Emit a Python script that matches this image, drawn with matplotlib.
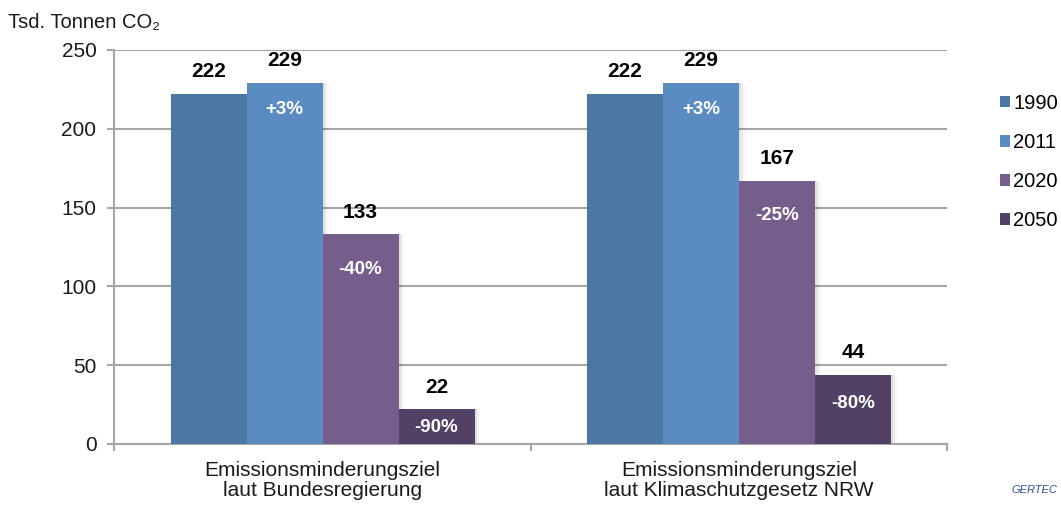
import matplotlib.pyplot as plt
from matplotlib.patches import Patch
import numpy as np

plt.rcParams['font.family'] = ['Liberation Sans', 'DejaVu Sans']

# --- data ---
categories = ["Emissionsminderungsziel\nlaut Bundesregierung",
              "Emissionsminderungsziel\nlaut Klimaschutzgesetz NRW"]
years = ["1990", "2011", "2020", "2050"]
values = {
    "1990": [222, 222],
    "2011": [229, 229],
    "2020": [133, 167],
    "2050": [22, 44],
}
changes = {
    "1990": ["", ""],
    "2011": ["+3%", "+3%"],
    "2020": ["-40%", "-25%"],
    "2050": ["-90%", "-80%"],
}
colors = ["#4a78a2", "#5a8cc1", "#765e8c", "#524166"]

fig = plt.figure(figsize=(10.61, 5.05), dpi=100)
ax = fig.add_axes([0.1079, 0.1208, 0.7847, 0.7802])

x = np.arange(len(categories))
w = 0.1825
grid_c = "#a6a6a6"
px_per_unit = 394 / 250  # axes height in px / y range

handles = []
for i, yr in enumerate(years):
    pos = x + (i - 1.5) * w
    vals = values[yr]
    # soft shadow on the right side
    for k, a in [(0.014, 0.03), (0.009, 0.04), (0.005, 0.05)]:
        ax.bar(pos + k, vals, w, color="black", alpha=a, zorder=2, linewidth=0)
    ax.bar(pos, vals, w, color=colors[i], zorder=3, linewidth=0)
    for p, v, c in zip(pos, vals, changes[yr]):
        ax.annotate(str(v), (p, v), xytext=(0, 16), textcoords="offset points",
                    ha="center", va="center", fontsize=15, fontweight="bold",
                    color="black", zorder=5)
        if c:
            h = v * px_per_unit
            off_px = 26 if yr == "2011" else min(35, 8 + 0.3 * h)
            ax.annotate(c, (p, v), xytext=(0, -off_px * 0.72), textcoords="offset points",
                        ha="center", va="center", fontsize=13.5, fontweight="bold",
                        color="white", zorder=5)
    handles.append(Patch(facecolor=colors[i], label=yr))

ax.set_xlim(-0.5, 1.5)
ax.set_ylim(0, 250)
ax.set_yticks(range(0, 251, 50))
ax.yaxis.grid(True, color=grid_c, linewidth=1.5, zorder=0)
ax.set_axisbelow(True)

for s in ["top", "right"]:
    ax.spines[s].set_visible(False)
for s in ["left", "bottom"]:
    ax.spines[s].set_color(grid_c)
    ax.spines[s].set_linewidth(1.5)

ax.tick_params(axis="y", length=5, width=1.5, color=grid_c, labelsize=15,
               pad=8, labelcolor="#1a1a1a")
ax.set_xticks(x)
ax.set_xticklabels(categories, fontsize=15, linespacing=1.1, color="#1a1a1a")
ax.tick_params(axis="x", length=0, pad=12)
ax.set_xticks([-0.5, 0.5, 1.5], minor=True)
ax.tick_params(axis="x", which="minor", length=5, width=1.5, color=grid_c)

fig.text(0.008, 0.955, "Tsd. Tonnen CO\u2082", fontsize=14.5, color="#1a1a1a",
         va="center", ha="left")

fig.legend(handles=handles, loc="upper left", bbox_to_anchor=(0.935, 0.83),
           frameon=False, fontsize=14.5, handlelength=0.5, handleheight=0.5,
           handletextpad=0.15, labelspacing=1.0, borderaxespad=0)

fig.text(0.975, 0.03, "GERTEC", fontsize=8, color="#2f4f96", style="italic",
         ha="center", va="center")

fig.savefig("out.png", dpi=100)
